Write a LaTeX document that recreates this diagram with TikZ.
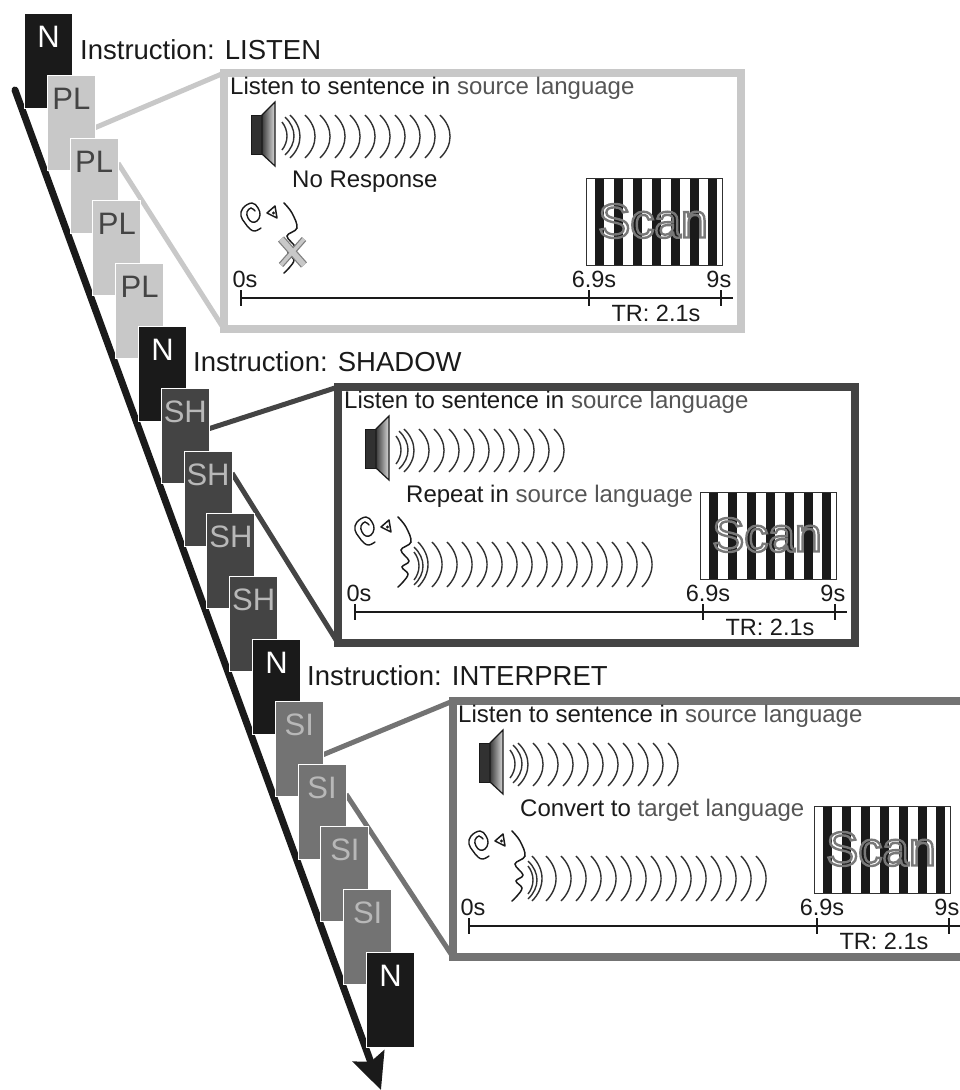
\documentclass[tikz,border=0pt]{standalone}
\usepackage{fontspec}
\setmainfont{Liberation Sans}
\usetikzlibrary{arrows.meta,backgrounds}
\definecolor{inkk}{HTML}{1A1A1A}
\definecolor{plc}{HTML}{C8C8C8}
\definecolor{shc}{HTML}{444444}
\definecolor{sic}{HTML}{737373}
\definecolor{srcc}{HTML}{555555}
\definecolor{lblc}{HTML}{B8B8B8}
\tikzset{
  txt/.style={font=\fontsize{24}{28}\selectfont,text=inkk,inner sep=0pt},
  instr/.style={txt,font=\fontsize{27.5}{31}\selectfont},
  small/.style={txt,font=\fontsize{23.5}{27}\selectfont},
  card/.style={draw=white,line width=1pt,anchor=north west,minimum width=48pt,text width=48pt,
     inner xsep=0pt,inner ysep=0pt,align=center,text height=34pt,text depth=61pt,
     font=\fontsize{31}{33}\selectfont,outer sep=0pt},
  panelbox/.style={draw,line width=8pt,anchor=north west,minimum width=517pt,minimum height=256pt,inner sep=0pt,outer sep=0pt},
  thinline/.style={draw=inkk,line width=1.3pt},
  wave/.style={draw=inkk!90,line width=1.4pt},
  conn/.style={line width=5pt},
  scanlabel/.style={font=\fontsize{48}{50}\selectfont,inner sep=0pt}
}
% wave arcs: first peak x, step, count, top y, bottom y
\newcommand\wavearcs[5]{%
  \foreach \wi in {1,...,#3}{%
    \pgfmathsetmacro\wavx{#1+(\wi-1)*#2}%
    \pgfmathsetmacro\wavA{#4+0.3*(#5-#4)}%
    \pgfmathsetmacro\wavB{#4+0.7*(#5-#4)}%
    \draw[wave] ({\wavx-10},#4) .. controls ({\wavx+3.4},\wavA) and ({\wavx+3.4},\wavB) .. ({\wavx-10},#5);
  }}
\newcommand\smallarc[4]{% peak, sagitta, top, bottom
  \pgfmathsetmacro\wavA{#3+0.3*(#4-#3)}%
  \pgfmathsetmacro\wavB{#3+0.7*(#4-#3)}%
  \pgfmathsetmacro\wavC{#1-#2}%
  \pgfmathsetmacro\wavD{#1+#2/3}%
  \draw[wave] (\wavC,#3) .. controls (\wavD,\wavA) and (\wavD,\wavB) .. (\wavC,#4);}
\newcommand\panelbody[2]{%
  \node[txt,anchor=west] (#1title) at (230,88) {Listen to sentence in \textcolor{srcc}{source language}};
  % speaker
  \draw[inkk,fill=inkk!90,line width=0.8pt] (251,115) rectangle (262,154);
  \draw[inkk,line width=1.2pt,left color=inkk!85,right color=white!85!black] (262,115) -- (275,102) -- (275,166) -- (262,154) -- cycle;
  \smallarc{287}{5}{122}{150}\smallarc{294}{9}{117}{155}\smallarc{300}{10}{115}{158}
  \wavearcs{315}{15}{10}{115}{158}
  \node[txt,anchor=west] (#1second) at (292,182) {#2};
  % ear
  \draw[inkk,line width=1.4pt,line cap=round] plot[smooth,tension=0.7] coordinates {(261,228)(255,231)(250,229)(245,223)(241,216)(243,208)(252,203)(258,208)(260,215)(257,221)(252,222)(248,218)(247,212)(251,208)(255,211)};
  % eye
  \draw[inkk,line width=1.5pt,line join=round] (267,213) -- (275,206) -- (277,218) -- cycle;
  \fill[inkk] (273.5,213) circle (1.7pt);
  % profile
  \draw[inkk,line width=1.5pt,line cap=round] plot[smooth,tension=0.6] coordinates {(284,203)(292,213)(297,228)(287,236)(295,247)(288,253)(294,260)(289,268)(284,273)};
  % scan block
  \foreach \bx in {595,614,633,652,671,690,708}{\fill[inkk] (\bx,178) rectangle ++(9.4,87);}
  \draw[inkk!90,line width=1pt] (586,178) rectangle (722,265);
  \node[scanlabel] (#1scan) at (653,221) {\special{pdf:code 1 Tr 2.4 w 0.47 G}Scan\special{pdf:code 0 Tr 1 w}};
  % time line
  \coordinate (#1ts) at (241,298);\coordinate (#1te) at (733,298);
  \draw[thinline] (#1ts) -- (#1te);
  \foreach \tx in {241,589,721}{\draw[thinline] (\tx,290) -- (\tx,306);}
  \node[small] (#1zero) at (245,279) {0s};
  \node[small] (#1six) at (594,279) {6.9s};
  \node[small,anchor=east] (#1nine) at (731.5,279) {9s};
  \node[small] (#1tr) at (656,313) {TR: 2.1s};
}
\newcommand\speechwaves{%
  \smallarc{305}{5}{238}{266}\smallarc{309}{9}{233}{271}\smallarc{314}{10}{228}{273}
  \wavearcs{328}{15}{15}{228}{273}}
\begin{document}
\begin{tikzpicture}[x=1pt,y=-1pt]
\clip (0,0) rectangle (960,1090);
% cards
\foreach \i/\lab/\fc/\tc in {0/N/inkk/white,1/PL/plc/shc,2/PL/plc/shc,3/PL/plc/shc,4/PL/plc/shc,
   5/N/inkk/white,6/SH/shc/lblc,7/SH/shc/lblc,8/SH/shc/lblc,9/SH/shc/lblc,
   10/N/inkk/white,11/SI/sic/lblc,12/SI/sic/lblc,13/SI/sic/lblc,14/SI/sic/lblc,15/N/inkk/white}{
  \pgfmathsetmacro\cx{24.5+\i*22.8}
  \pgfmathsetmacro\cy{13+\i*62.6}
  \node[card,fill=\fc,text=\tc] (c\i) at (\cx,\cy) {\lab};
}
% instruction labels
\node[instr,anchor=west] (i1) at (80,50) {Instruction: LISTEN};
\node[instr,anchor=west] (i2) at (193,362) {Instruction: SHADOW};
\node[instr,anchor=west] (i3) at (307,676) {Instruction: INTERPRET};
% panel 1
\node[panelbox,draw=plc] (p1) at (224,73) {};
\begin{scope}
  \panelbody{a}{No Response}
  \draw[gray,line width=8pt] (281,239) -- (304,265);
  \draw[gray,line width=6pt] (304,239) -- (281,265);
  \draw[plc,line width=5.5pt] (281,239) -- (304,265);
  \draw[plc,line width=3.5pt] (304,239) -- (281,265);
\end{scope}
% panel 2
\node[panelbox,draw=shc] (p2) at (338,387) {};
\begin{scope}[shift={(114,314)}]
  \panelbody{b}{Repeat in \textcolor{srcc}{source language}}
  \speechwaves
\end{scope}
% panel 3
\node[panelbox,draw=sic,minimum width=540pt] (p3) at (453,701) {};
\begin{scope}[shift={(228,628)}]
  \panelbody{d}{Convert to \textcolor{srcc}{target language}}
  \speechwaves
\end{scope}
\begin{scope}[on background layer]
  \coordinate (arrs) at (15,90);
  \coordinate (arre) at (381,1090);
  \draw[inkk,line width=7pt,line cap=round,-{Stealth[length=36pt,width=33pt,inset=6pt]}] (arrs) -- (arre);
  \draw[conn,plc] ([yshift=-52pt]c1.north east) -- (p1.north west);
  \draw[conn,plc] ([yshift=-25pt]c2.north east) -- (p1.south west);
  \draw[conn,shc] ([yshift=-40pt]c6.north east) -- (p2.north west);
  \draw[conn,shc] ([yshift=-22pt]c7.north east) -- (p2.south west);
  \draw[conn,sic] ([yshift=-53pt]c11.north east) -- (p3.north west);
  \draw[conn,sic] ([yshift=-30pt]c12.north east) -- (p3.south west);
\end{scope}
\end{tikzpicture}
\end{document}
